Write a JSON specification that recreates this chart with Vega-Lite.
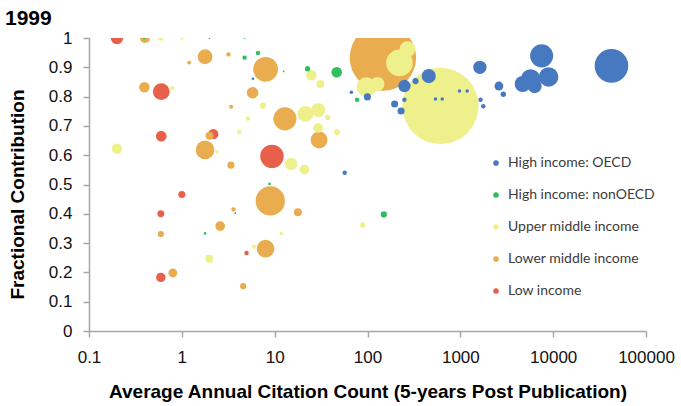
{
  "$schema": "https://vega.github.io/schema/vega-lite/v6.json",
  "autosize": "none",
  "width": 557,
  "height": 293,
  "padding": {"left": 89, "top": 38, "right": 35, "bottom": 75},
  "background": "white",
  "title": {"text": "1999", "anchor": "start", "frame": "group", "dx": -84, "dy": 17, "offset": 0, "baseline": "alphabetic", "font": "Liberation Sans", "fontSize": 21, "fontWeight": "bold", "color": "#000000"},
  "config": {"view": {"stroke": null}},
  "data": {"values": [
    {"income": "Low income", "cites": 0.2, "frac": 1.0, "papers": 196},
    {"income": "Low income", "cites": 0.6, "frac": 0.817, "papers": 361},
    {"income": "Low income", "cites": 0.6, "frac": 0.665, "papers": 144},
    {"income": "Low income", "cites": 2.18, "frac": 0.672, "papers": 137},
    {"income": "Low income", "cites": 9.35, "frac": 0.596, "papers": 700},
    {"income": "Low income", "cites": 1.0, "frac": 0.466, "papers": 64},
    {"income": "Low income", "cites": 0.594, "frac": 0.4, "papers": 60},
    {"income": "Low income", "cites": 0.594, "frac": 0.183, "papers": 114},
    {"income": "Low income", "cites": 4.98, "frac": 0.266, "papers": 25},
    {"income": "Lower middle income", "cites": 146.6, "frac": 0.933, "papers": 5625},
    {"income": "Lower middle income", "cites": 0.4, "frac": 1.0, "papers": 128},
    {"income": "Lower middle income", "cites": 1.78, "frac": 0.936, "papers": 278},
    {"income": "Lower middle income", "cites": 1.2, "frac": 0.916, "papers": 20},
    {"income": "Lower middle income", "cites": 3.18, "frac": 0.944, "papers": 25},
    {"income": "Lower middle income", "cites": 0.395, "frac": 0.832, "papers": 137},
    {"income": "Lower middle income", "cites": 3.4, "frac": 0.765, "papers": 20},
    {"income": "Lower middle income", "cites": 7.98, "frac": 0.893, "papers": 784},
    {"income": "Lower middle income", "cites": 5.78, "frac": 0.813, "papers": 169},
    {"income": "Lower middle income", "cites": 12.9, "frac": 0.724, "papers": 676},
    {"income": "Lower middle income", "cites": 30.1, "frac": 0.652, "papers": 361},
    {"income": "Lower middle income", "cites": 1.78, "frac": 0.618, "papers": 441},
    {"income": "Lower middle income", "cites": 1.99, "frac": 0.666, "papers": 81},
    {"income": "Lower middle income", "cites": 3.38, "frac": 0.566, "papers": 64},
    {"income": "Lower middle income", "cites": 8.97, "frac": 0.444, "papers": 1089},
    {"income": "Lower middle income", "cites": 17.8, "frac": 0.405, "papers": 81},
    {"income": "Lower middle income", "cites": 2.59, "frac": 0.358, "papers": 121},
    {"income": "Lower middle income", "cites": 3.6, "frac": 0.415, "papers": 25},
    {"income": "Lower middle income", "cites": 0.594, "frac": 0.331, "papers": 49},
    {"income": "Lower middle income", "cites": 0.8, "frac": 0.198, "papers": 100},
    {"income": "Lower middle income", "cites": 7.98, "frac": 0.281, "papers": 400},
    {"income": "Lower middle income", "cites": 4.58, "frac": 0.153, "papers": 49},
    {"income": "Upper middle income", "cites": 611, "frac": 0.768, "papers": 7396},
    {"income": "Upper middle income", "cites": 221, "frac": 0.915, "papers": 900},
    {"income": "Upper middle income", "cites": 269, "frac": 0.962, "papers": 324},
    {"income": "Upper middle income", "cites": 97.3, "frac": 0.833, "papers": 484},
    {"income": "Upper middle income", "cites": 128, "frac": 0.843, "papers": 256},
    {"income": "Upper middle income", "cites": 0.594, "frac": 1.0, "papers": 36},
    {"income": "Upper middle income", "cites": 1.0, "frac": 1.0, "papers": 16},
    {"income": "Upper middle income", "cites": 0.79, "frac": 0.829, "papers": 25},
    {"income": "Upper middle income", "cites": 0.2, "frac": 0.622, "papers": 137},
    {"income": "Upper middle income", "cites": 2.39, "frac": 0.612, "papers": 16},
    {"income": "Upper middle income", "cites": 4.15, "frac": 0.679, "papers": 25},
    {"income": "Upper middle income", "cites": 5.15, "frac": 0.725, "papers": 25},
    {"income": "Upper middle income", "cites": 7.48, "frac": 0.769, "papers": 49},
    {"income": "Upper middle income", "cites": 1.97, "frac": 0.247, "papers": 81},
    {"income": "Upper middle income", "cites": 24.8, "frac": 0.873, "papers": 144},
    {"income": "Upper middle income", "cites": 31.0, "frac": 0.843, "papers": 81},
    {"income": "Upper middle income", "cites": 37.2, "frac": 0.729, "papers": 36},
    {"income": "Upper middle income", "cites": 21.4, "frac": 0.741, "papers": 324},
    {"income": "Upper middle income", "cites": 29.5, "frac": 0.754, "papers": 256},
    {"income": "Upper middle income", "cites": 29.3, "frac": 0.693, "papers": 121},
    {"income": "Upper middle income", "cites": 47, "frac": 0.679, "papers": 49},
    {"income": "Upper middle income", "cites": 15.0, "frac": 0.57, "papers": 196},
    {"income": "Upper middle income", "cites": 20.9, "frac": 0.551, "papers": 121},
    {"income": "Upper middle income", "cites": 11.8, "frac": 0.333, "papers": 16},
    {"income": "Upper middle income", "cites": 6.0, "frac": 0.288, "papers": 25},
    {"income": "Upper middle income", "cites": 88.8, "frac": 0.362, "papers": 36},
    {"income": "High income: nonOECD", "cites": 0.395, "frac": 1.0, "papers": 9},
    {"income": "High income: nonOECD", "cites": 4.74, "frac": 1.0, "papers": 4},
    {"income": "High income: nonOECD", "cites": 4.74, "frac": 0.933, "papers": 25},
    {"income": "High income: nonOECD", "cites": 6.6, "frac": 0.949, "papers": 25},
    {"income": "High income: nonOECD", "cites": 12.5, "frac": 0.886, "papers": 4},
    {"income": "High income: nonOECD", "cites": 22.6, "frac": 0.895, "papers": 36},
    {"income": "High income: nonOECD", "cites": 46.6, "frac": 0.883, "papers": 144},
    {"income": "High income: nonOECD", "cites": 77.2, "frac": 0.789, "papers": 25},
    {"income": "High income: nonOECD", "cites": 150, "frac": 0.398, "papers": 49},
    {"income": "High income: nonOECD", "cites": 8.8, "frac": 0.502, "papers": 9},
    {"income": "High income: nonOECD", "cites": 3.76, "frac": 0.402, "papers": 4},
    {"income": "High income: nonOECD", "cites": 1.78, "frac": 0.333, "papers": 9},
    {"income": "High income: OECD", "cites": 42460, "frac": 0.905, "papers": 1444},
    {"income": "High income: OECD", "cites": 7516, "frac": 0.939, "papers": 676},
    {"income": "High income: OECD", "cites": 8935, "frac": 0.867, "papers": 484},
    {"income": "High income: OECD", "cites": 5717, "frac": 0.86, "papers": 484},
    {"income": "High income: OECD", "cites": 4690, "frac": 0.843, "papers": 324},
    {"income": "High income: OECD", "cites": 6310, "frac": 0.836, "papers": 256},
    {"income": "High income: OECD", "cites": 1624, "frac": 0.9, "papers": 225},
    {"income": "High income: OECD", "cites": 457, "frac": 0.87, "papers": 256},
    {"income": "High income: OECD", "cites": 329, "frac": 0.853, "papers": 49},
    {"income": "High income: OECD", "cites": 250, "frac": 0.836, "papers": 196},
    {"income": "High income: OECD", "cites": 250, "frac": 0.789, "papers": 25},
    {"income": "High income: OECD", "cites": 196, "frac": 0.775, "papers": 64},
    {"income": "High income: OECD", "cites": 230, "frac": 0.751, "papers": 64},
    {"income": "High income: OECD", "cites": 99.7, "frac": 0.799, "papers": 64},
    {"income": "High income: OECD", "cites": 67, "frac": 0.815, "papers": 16},
    {"income": "High income: OECD", "cites": 56.8, "frac": 0.54, "papers": 25},
    {"income": "High income: OECD", "cites": 540, "frac": 0.792, "papers": 16},
    {"income": "High income: OECD", "cites": 638, "frac": 0.792, "papers": 16},
    {"income": "High income: OECD", "cites": 980, "frac": 0.819, "papers": 16},
    {"income": "High income: OECD", "cites": 1186, "frac": 0.819, "papers": 16},
    {"income": "High income: OECD", "cites": 1652, "frac": 0.789, "papers": 25},
    {"income": "High income: OECD", "cites": 1767, "frac": 0.767, "papers": 25},
    {"income": "High income: OECD", "cites": 2603, "frac": 0.836, "papers": 100},
    {"income": "High income: OECD", "cites": 2903, "frac": 0.808, "papers": 36},
    {"income": "High income: OECD", "cites": 1.99, "frac": 1.0, "papers": 4},
    {"income": "High income: OECD", "cites": 5.83, "frac": 0.861, "papers": 9}
  ]},
  "mark": {"type": "circle", "opacity": 1, "clip": true},
  "encoding": {
    "x": {
      "field": "cites", "type": "quantitative",
      "scale": {"type": "log", "domain": [0.1, 100000], "nice": false},
      "axis": {
        "title": "Average Annual Citation Count (5-years Post Publication)",
        "values": [0.1, 1, 10, 100, 1000, 10000, 100000],
        "format": "~g",
        "grid": false,
        "domainColor": "#a6a6a6", "domainWidth": 1.5,
        "tickColor": "#a6a6a6", "tickWidth": 1.5, "tickSize": 6,
        "labelFont": "Liberation Sans", "labelFontSize": 17, "labelColor": "#111111", "labelPadding": 12,
        "labelFlush": false, "labelOverlap": false,
        "titleFont": "Liberation Sans", "titleFontSize": 19, "titleFontWeight": "bold", "titleColor": "#000000",
        "titleY": 66, "titleBaseline": "alphabetic"
      }
    },
    "y": {
      "field": "frac", "type": "quantitative",
      "scale": {"domain": [0, 1], "nice": false},
      "axis": {
        "title": "Fractional Contribution",
        "values": [0, 0.1, 0.2, 0.3, 0.4, 0.5, 0.6, 0.7, 0.8, 0.9, 1],
        "format": "~g",
        "grid": false,
        "domainColor": "#a6a6a6", "domainWidth": 1.5,
        "tickColor": "#a6a6a6", "tickWidth": 1.5, "tickSize": 6,
        "labelFont": "Liberation Sans", "labelFontSize": 17, "labelColor": "#111111", "labelPadding": 11,
        "labelFlush": false, "labelOverlap": false,
        "titleFont": "Liberation Sans", "titleFontSize": 19, "titleFontWeight": "bold", "titleColor": "#000000",
        "titleX": -72, "titleY": 156, "titleBaseline": "middle", "titleAngle": -90
      }
    },
    "size": {
      "field": "papers", "type": "quantitative",
      "scale": {"type": "linear", "domain": [0, 10000], "range": [0, 7854]},
      "legend": null
    },
    "color": {
      "field": "income", "type": "nominal",
      "scale": {
        "domain": ["High income: OECD", "High income: nonOECD", "Upper middle income", "Lower middle income", "Low income"],
        "range": ["#4679c0", "#30bf5e", "#eef08c", "#e9ac4e", "#e8604b"]
      },
      "legend": {
        "title": null,
        "orient": "none",
        "legendX": 400,
        "legendY": 118,
        "symbolType": "circle",
        "symbolSize": 32,
        "symbolStrokeWidth": 0,
        "rowPadding": 18,
        "labelFont": "Lato",
        "labelFontSize": 14,
        "labelColor": "#3c3c3c",
        "labelOffset": 5,
        "padding": 0
      }
    }
  }
}
